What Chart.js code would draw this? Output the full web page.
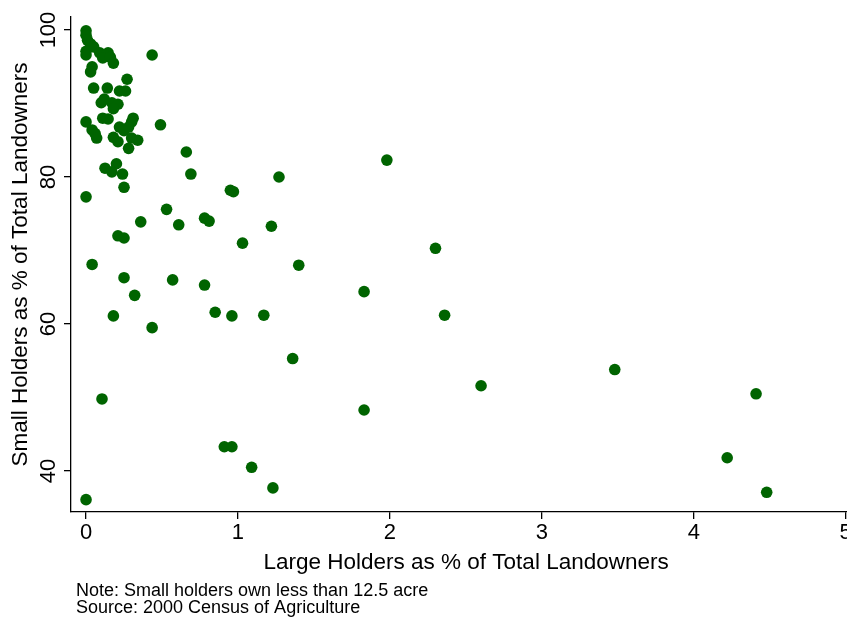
<!DOCTYPE html>
<html>
<head>
<meta charset="utf-8">
<script src="https://cdn.jsdelivr.net/npm/chart.js@4.4.1/dist/chart.umd.min.js"></script>
<style>
  html, body { margin: 0; padding: 0; background: #fff; overflow: hidden; }
  #wrap { width: 847px; height: 621px; overflow: hidden; }
</style>
</head>
<body>
<div id="wrap"><canvas id="scatter" width="867" height="621"></canvas></div>
<script>
// Large holders (% of total landowners) -> x
const largeHolders = [
  0.00, 0.435, 0.49, 0.66, 0.69, 0.53, 0.36, 0.61, 0.78, 0.81,
  0.95, 0.97, 1.27, 1.98, 1.03, 1.22, 1.40, 2.30, 0.04, 0.21,
  0.25, 0.25, 0.57, 0.78, 1.83, 0.32, 0.18, 0.85, 0.96, 1.17,
  2.36, 0.435, 1.36, 3.48, 2.60, 4.41, 0.105, 1.83, 0.91, 0.96,
  1.09, 4.22, 1.23, 4.48, 0.00,
  0.00, 0.00, 0.01, 0.03, 0.05, 0.00, 0.00, 0.09, 0.145, 0.11,
  0.16, 0.18, 0.04, 0.03, 0.27, 0.05, 0.14, 0.22, 0.26, 0.10,
  0.12, 0.17, 0.21, 0.18, 0.31, 0.30, 0.11, 0.145, 0.00, 0.04,
  0.06, 0.07, 0.22, 0.28, 0.25, 0.18, 0.30, 0.34, 0.21, 0.28,
  0.20, 0.125, 0.17, 0.24, 0.25
];
// Small holders (% of total landowners) -> y
const smallHolders = [
  77.3, 96.6, 87.1, 83.4, 80.4, 75.6, 73.9, 73.5, 74.4, 74.0,
  78.2, 78.0, 80.0, 82.3, 71.0, 73.3, 68.0, 70.3, 68.1, 72.0,
  71.7, 66.3, 66.0, 65.3, 64.4, 63.9, 61.1, 61.6, 61.1, 61.2,
  61.2, 59.5, 55.3, 53.8, 51.6, 50.5, 49.8, 48.3, 43.3, 43.3,
  40.5, 41.8, 37.7, 37.1, 36.1,
  99.9, 99.3, 98.6, 98.1, 97.7, 97.1, 96.6, 96.9, 96.9, 96.2,
  96.3, 95.5, 95.0, 94.3, 93.3, 92.1, 92.1, 91.7, 91.7, 90.1,
  90.6, 90.1, 89.9, 89.3, 88.0, 87.5, 88.0, 87.9, 87.5, 86.4,
  85.9, 85.3, 86.8, 86.8, 86.3, 85.4, 85.3, 85.0, 84.8, 83.9,
  81.8, 81.2, 80.7, 80.4, 78.6
];
const xTicks = [0, 1, 2, 3, 4, 5];
const yTicks = [40, 60, 80, 100];
const xTitle = 'Large Holders as % of Total Landowners';
const yTitle = 'Small Holders as % of Total Landowners';
const notes = ['Note: Small holders own less than 12.5 acre', 'Source: 2000 Census of Agriculture'];

const FONT = "'Liberation Sans', Helvetica, Arial, sans-serif";
const points = largeHolders.map((x, i) => ({ x: x, y: smallHolders[i] }));

// notes under the graph, left aligned like Stata's note()
const notePlugin = {
  id: 'notes',
  afterDraw(chart) {
    const ctx = chart.ctx;
    ctx.save();
    ctx.fillStyle = '#000';
    ctx.font = '18px ' + FONT;
    ctx.textBaseline = 'middle';
    ctx.textAlign = 'left';
    notes.forEach((t, i) => ctx.fillText(t, chart.chartArea.left + 5, 591 + i * 17));
    ctx.restore();
  }
};

new Chart(document.getElementById('scatter'), {
  type: 'scatter',
  data: {
    datasets: [{
      data: points,
      backgroundColor: '#006400',
      borderWidth: 0,
      pointRadius: 5.8,
      pointHoverRadius: 5.8
    }]
  },
  options: {
    responsive: false,
    animation: false,
    layout: { padding: { top: 17, left: 0, right: 0, bottom: 0 } },
    plugins: { legend: { display: false }, tooltip: { enabled: false } },
    scales: {
      x: {
        type: 'linear',
        min: -0.099,
        max: 5.102,
        afterBuildTicks: s => { s.ticks = xTicks.map(v => ({ value: v })); },
        afterFit: s => { s.height = 109; },
        grid: { drawOnChartArea: false, drawTicks: true, tickLength: 7, color: '#000', lineWidth: 1.3 },
        border: { color: '#000', width: 1.3 },
        ticks: { color: '#000', padding: 1, font: { family: FONT, size: 22 } },
        title: {
          display: true, text: xTitle, color: '#000',
          font: { family: FONT, size: 22.5 },
          padding: { top: 0, bottom: 45 }
        }
      },
      y: {
        type: 'linear',
        min: 34.42,
        max: 101.77,
        afterBuildTicks: s => { s.ticks = yTicks.map(v => ({ value: v })); },
        afterFit: s => { s.width = 71; },
        grid: { drawOnChartArea: false, drawTicks: true, tickLength: 7, color: '#000', lineWidth: 1.3 },
        border: { color: '#000', width: 1.3 },
        ticks: {
          color: '#000', padding: -3, minRotation: 90, maxRotation: 90, crossAlign: 'center',
          font: { family: FONT, size: 22 }
        },
        title: {
          display: true, text: yTitle, color: '#000',
          font: { family: FONT, size: 22.5 },
          padding: { top: 7, bottom: 0 }
        }
      }
    }
  },
  plugins: [notePlugin]
});
</script>
</body>
</html>
